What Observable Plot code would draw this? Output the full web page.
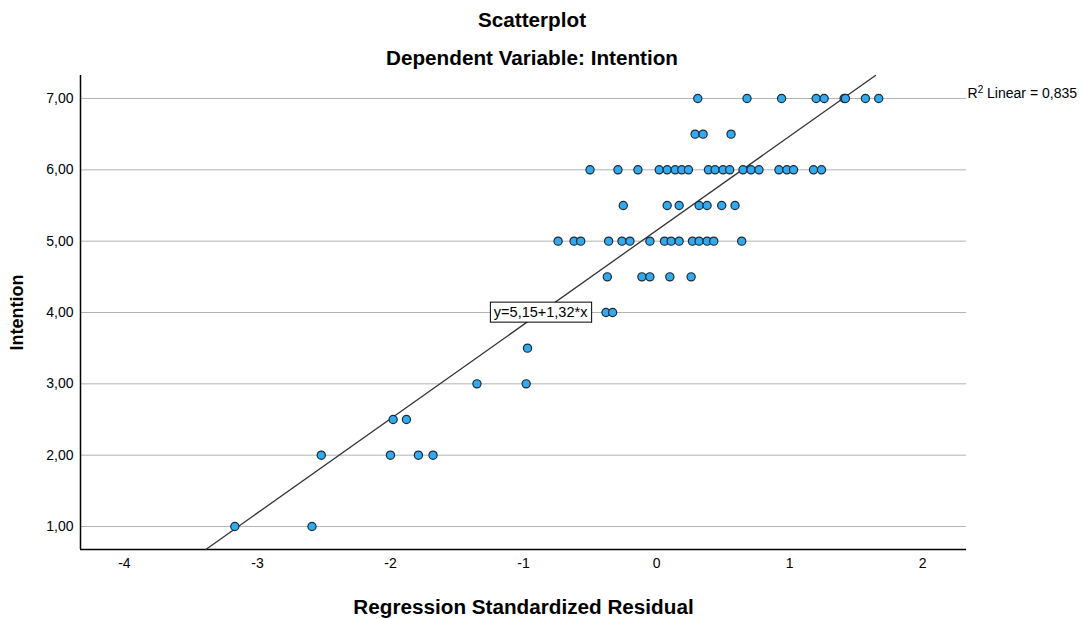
<!DOCTYPE html>
<html><head><meta charset="utf-8">
<script src="https://cdn.jsdelivr.net/npm/d3@7"></script>
<script src="https://cdn.jsdelivr.net/npm/@observablehq/plot@0.6"></script>
<style>
body{margin:0;background:#fff;font-family:"Liberation Sans",Arial,sans-serif;}
#wrap{position:relative;width:1081px;height:619px;}
#head{position:relative;height:70px;}
.t{position:absolute;left:0;width:1064px;text-align:center;font-weight:bold;font-size:20.7px;line-height:1;color:#000;}
g[aria-label="x-axis label"] text{font-size:20.7px;font-weight:bold;}
g[aria-label="y-axis label"] text{font-size:18px;font-weight:bold;}
</style></head><body>
<div id="wrap">
<div id="head"><div class="t" style="top:10px">Scatterplot</div><div class="t" style="top:48px">Dependent Variable: Intention</div></div>
<div id="chart"></div>
</div>
<script>
// Intention levels (y) and the standardized residuals (x) observed at each level
const intentionLevels = [7, 6.5, 6, 5.5, 5, 4.5, 4, 3.5, 3, 2.5, 2, 1];
const res7_0 = [0.31, 0.68, 0.94, 1.20, 1.26, 1.41, 1.42, 1.57, 1.67];
const res6_5 = [0.29, 0.35, 0.56];
const res6_0 = [-0.50, -0.29, -0.14, 0.02, 0.08, 0.14, 0.19, 0.24, 0.39, 0.44, 0.50, 0.55, 0.65, 0.71, 0.77, 0.92, 0.98, 1.03, 1.18, 1.24];
const res5_5 = [-0.25, 0.08, 0.17, 0.32, 0.38, 0.49, 0.59];
const res5_0 = [-0.74, -0.62, -0.57, -0.36, -0.26, -0.20, -0.05, 0.06, 0.11, 0.17, 0.27, 0.32, 0.38, 0.43, 0.64];
const res4_5 = [-0.37, -0.11, -0.05, 0.10, 0.26];
const res4_0 = [-0.38, -0.33];
const res3_5 = [-0.97];
const res3_0 = [-1.35, -0.98];
const res2_5 = [-1.98, -1.88];
const res2_0 = [-2.52, -2.00, -1.79, -1.68];
const res1_0 = [-3.17, -2.59];
const residualRows = [res7_0, res6_5, res6_0, res5_5, res5_0, res4_5, res4_0, res3_5, res3_0, res2_5, res2_0, res1_0];

// Fit line and labels
const fitIntercept = 5.15;
const fitSlope = 1.32;
const fitLabel = "y=5,15+1,32*x";
const fitLabelY = 4;
const r2Label = "R2 Linear = 0,835";

// Axes
const xTicks = [-4, -3, -2, -1, 0, 1, 2];
const yTicks = [1, 2, 3, 4, 5, 6, 7];
const xDomain = [-4.33, 2.33];
const yDomain = [0.678, 7.322];
const xTitle = "Regression Standardized Residual";
const yTitle = "Intention";

const points = [];
intentionLevels.forEach((lv, i) => residualRows[i].forEach(r => points.push({residual: r, intention: lv})));
const fitLine = yDomain.map(y => ({residual: (y - fitIntercept) / fitSlope, intention: y}));
const fitLabelPos = [{residual: (fitLabelY - fitIntercept) / fitSlope, intention: fitLabelY, text: fitLabel}];

const chart = Plot.plot({
  width: 1081,
  height: 549,
  marginTop: 5,
  marginBottom: 70,
  marginLeft: 80,
  marginRight: 115,
  style: {fontFamily: '"Liberation Sans", Arial, sans-serif', fontSize: "14px", background: "#fff", overflow: "visible"},
  x: {domain: xDomain},
  y: {domain: yDomain},
  marks: [
    Plot.gridY(yTicks, {stroke: "#b3b3b3", strokeOpacity: 1, strokeWidth: 1}),
    Plot.axisX(xTicks, {tickSize: 0, tickPadding: 9, fontSize: 14, tickFormat: d => String(d), label: xTitle, labelAnchor: "center", labelOffset: 64, labelArrow: "none"}),
    Plot.axisY(yTicks, {tickSize: 0, tickPadding: 7, fontSize: 14, tickFormat: d => d.toFixed(2).replace(".", ","), label: yTitle, labelAnchor: "center", labelOffset: 70, labelArrow: "none"}),
    Plot.ruleX([xDomain[0]], {stroke: "#000", strokeWidth: 1.5}),
    Plot.ruleY([yDomain[0]], {stroke: "#000", strokeWidth: 1.5}),
    Plot.line(fitLine, {x: "residual", y: "intention", stroke: "#333", strokeWidth: 1.3}),
    Plot.dot(points, {x: "residual", y: "intention", r: 4.1, fill: "#33a9ef", stroke: "#1d2b36", strokeWidth: 1.2}),
    Plot.text(fitLabelPos, {x: "residual", y: "intention", text: "text", fontSize: 14.5, fill: "#000"}),
    Plot.text([r2Label], {text: d => d, frameAnchor: "top-right", textAnchor: "start", dx: 1, dy: 13, fontSize: 14, fill: "#000"})
  ]
});
document.getElementById("chart").appendChild(chart);

// strip any axis-label arrows
chart.querySelectorAll('g[aria-label$="axis label"] text').forEach(t => {
  if (/[→↑]/.test(t.textContent)) {
    t.textContent = t.textContent.replace(/\s*[→↑]\s*/g, "");
  }
});

chart.querySelectorAll("text").forEach(t => {
  // white box with black border behind the fit equation label
  if (t.textContent === fitLabel) {
    const b = t.getBBox();
    const tr = t.getAttribute("transform");
    const rect = document.createElementNS("http://www.w3.org/2000/svg", "rect");
    rect.setAttribute("x", b.x - 3.5);
    rect.setAttribute("y", b.y - 2);
    rect.setAttribute("width", b.width + 7);
    rect.setAttribute("height", b.height + 4);
    rect.setAttribute("fill", "#fff");
    rect.setAttribute("stroke", "#000");
    rect.setAttribute("stroke-width", "1");
    if (tr) rect.setAttribute("transform", tr);
    t.parentNode.insertBefore(rect, t);
  }
  // superscript 2 in the R² label
  if (t.textContent === r2Label) {
    t.textContent = "";
    const ns = "http://www.w3.org/2000/svg";
    const a = document.createElementNS(ns, "tspan"); a.textContent = "R";
    const s = document.createElementNS(ns, "tspan"); s.textContent = "2";
    s.setAttribute("font-size", "10"); s.setAttribute("dy", "-5");
    const c = document.createElementNS(ns, "tspan"); c.textContent = " Linear = 0,835";
    c.setAttribute("dy", "5");
    t.append(a, s, c);
  }
});
</script>
</body></html>
